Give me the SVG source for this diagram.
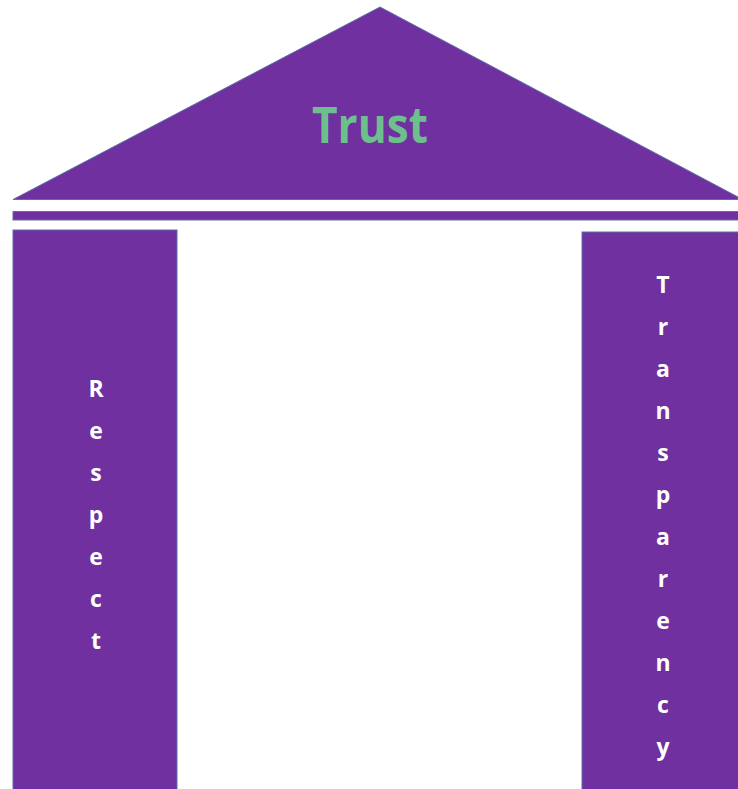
<svg xmlns="http://www.w3.org/2000/svg" width="738" height="789" viewBox="0 0 738 789">
<style>
.p{fill:#7030A0;stroke:#5B6FA8;stroke-width:1}
.l{font-family:"Open Sans","Noto Sans",sans-serif;font-weight:bold;font-size:23px;fill:#FFFFFF;text-anchor:middle}
.t{font-family:"Open Sans","Noto Sans",sans-serif;font-weight:bold;font-size:51px;fill:#6DBF8E;text-anchor:middle}
</style>
<rect width="738" height="789" fill="#FFFFFF"/>
<g id="roof">
<polygon class="p" points="380,7 13,199.5 738,199.5 738,197"/>
<text class="t" x="370" y="143" textLength="116" lengthAdjust="spacingAndGlyphs">Trust</text>
</g>
<g id="beam">
<rect class="p" x="13" y="211.5" width="726" height="8.5"/>
</g>
<g id="respect">
<rect class="p" x="13" y="230" width="164" height="560"/>
<text class="l"><tspan x="96" y="397">R</tspan><tspan x="96" y="439">e</tspan><tspan x="96" y="481">s</tspan><tspan x="96" y="523">p</tspan><tspan x="96" y="565">e</tspan><tspan x="96" y="607">c</tspan><tspan x="96" y="649">t</tspan></text>
</g>
<g id="transparency">
<rect class="p" x="582" y="232" width="157" height="558"/>
<text class="l"><tspan x="663" y="293">T</tspan><tspan x="663" y="335">r</tspan><tspan x="663" y="377">a</tspan><tspan x="663" y="419">n</tspan><tspan x="663" y="461">s</tspan><tspan x="663" y="503">p</tspan><tspan x="663" y="545">a</tspan><tspan x="663" y="587">r</tspan><tspan x="663" y="629">e</tspan><tspan x="663" y="671">n</tspan><tspan x="663" y="713">c</tspan><tspan x="663" y="755">y</tspan></text>
</g>
<g id="connectors"></g>
</svg>
